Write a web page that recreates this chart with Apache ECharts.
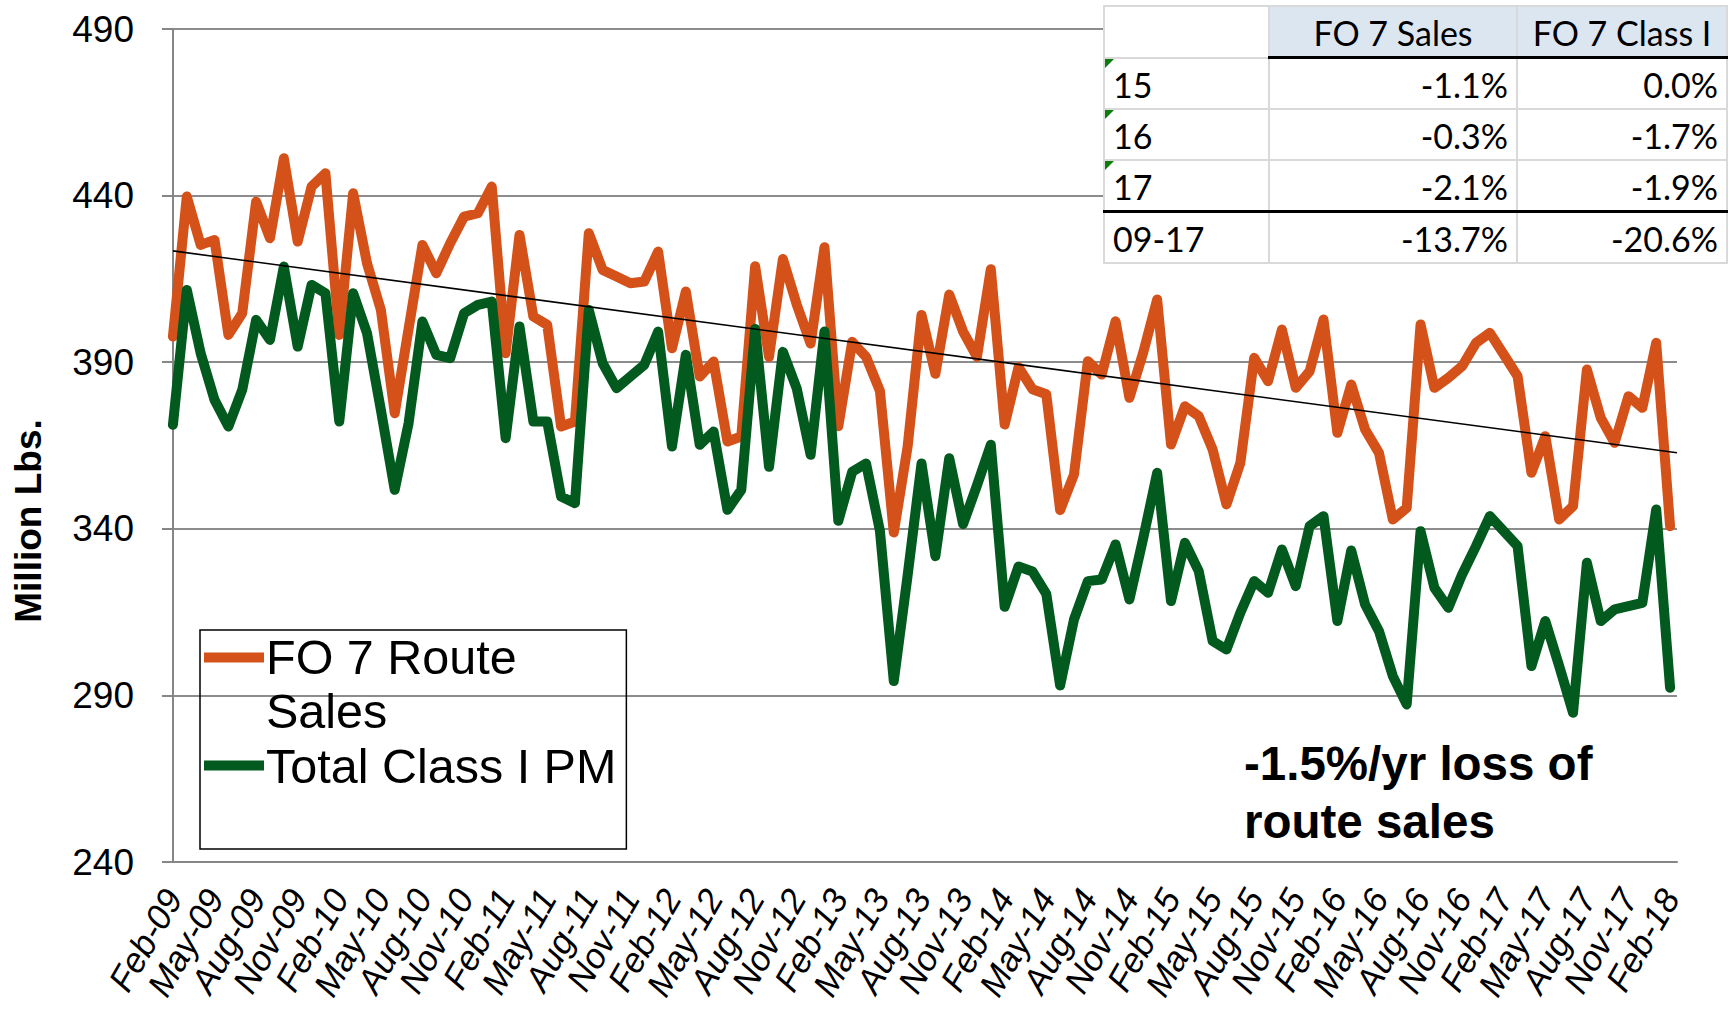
<!DOCTYPE html>
<html>
<head>
<meta charset="utf-8">
<script src="https://cdn.jsdelivr.net/npm/echarts@6/dist/echarts.min.js"></script>
<style>
  html, body { margin: 0; padding: 0; background: #fff; }
  #wrap { position: relative; width: 1729px; height: 1009px; overflow: hidden; }
  #main { position: absolute; left: 0; top: 0; width: 1729px; height: 1009px; }
  table.stats {
    position: absolute; left: 1103px; top: 5px;
    border-collapse: collapse; background: #fff;
    font-family: Lato, "Open Sans", sans-serif; font-size: 34px; color: #000;
  }
  table.stats td { border: 2px solid #d9d9d9; height: 47px; padding: 2px 8px 0 8px; white-space: nowrap; }
  table.stats td.num { text-align: right; }
  table.stats tr.head td.hd { background: #dce6f1; text-align: center; border-bottom: 3px solid #000; }
  table.stats tr.total td { border-top: 3px solid #000; }
  table.stats td.flag { position: relative; }
  table.stats td.flag::before {
    content: ''; position: absolute; left: 0; top: 0;
    border-top: 9px solid #0a7d0a; border-right: 9px solid transparent;
  }
</style>
</head>
<body>
<div id="wrap">
  <div id="main"></div>
  <table class="stats" id="stats"></table>
</div>
<script>
// monthly values, Feb-09 .. Feb-18 (million lbs)
var routeSales = [
  397.7, 439.7, 425.2, 426.7, 398.2, 404.7, 438.2, 427.2, 451.2, 426.2, 442.7, 446.7,
  398.2, 440.7, 419.7, 405.7, 374.7, 400.0, 425.2, 416.7, 425.7, 433.7, 434.7, 442.7,
  392.7, 428.2, 403.7, 401.2, 370.7, 372.2, 428.7, 417.7, 415.7, 413.7, 414.2, 423.2,
  394.2, 411.2, 385.7, 390.2, 366.2, 367.7, 418.8, 391.6, 421.0, 407.3, 395.6, 424.5,
  370.8, 396.1, 391.6, 381.4, 338.9, 364.7, 404.2, 386.5, 410.3, 399.2, 391.6, 417.9,
  371.3, 388.5, 381.9, 380.4, 345.6, 356.3, 390.3, 386.3, 402.3, 379.3, 393.0, 408.8,
  365.3, 376.8, 373.8, 363.8, 347.3, 359.8, 391.3, 384.3, 399.8, 382.3, 387.3, 402.8,
  368.8, 383.3, 369.8, 362.8, 342.8, 346.3, 401.3, 382.3, 385.3, 388.8, 395.8, 398.8,
  392.3, 385.8, 356.8, 367.8, 342.8, 346.8, 387.8, 373.3, 365.8, 379.8, 376.3, 395.8,
  340.8
];
var classI = [
  371.2, 411.7, 392.7, 378.7, 370.7, 381.7, 402.7, 396.7, 418.7, 394.7, 413.2, 410.7,
  372.2, 410.7, 398.7, 375.7, 351.7, 371.7, 402.2, 392.2, 391.2, 404.7, 407.2, 408.2,
  367.2, 400.7, 372.2, 372.2, 349.7, 347.7, 405.7, 389.7, 382.2, 385.7, 389.2, 399.2,
  364.7, 392.2, 365.2, 369.2, 345.7, 351.7, 400.0, 358.6, 393.1, 382.1, 362.2, 399.2,
  342.4, 357.1, 359.6, 339.4, 294.3, 326.0, 359.6, 331.8, 361.2, 341.4, 353.0, 365.2,
  316.6, 328.7, 327.2, 320.5, 293.0, 312.8, 324.3, 324.8, 335.3, 318.8, 337.3, 356.8,
  318.3, 335.8, 327.3, 306.3, 303.8, 314.8, 324.3, 320.8, 333.8, 322.8, 340.8, 343.8,
  312.3, 333.5, 317.3, 309.3, 295.8, 287.3, 339.3, 322.3, 316.3, 326.3, 334.8, 343.8,
  339.3, 334.8, 298.8, 312.3, 298.8, 284.8, 329.8, 312.3, 315.8, 316.8, 317.8, 345.8,
  292.3
];
// linear trend of route sales, read at its two ends
var trendEnds = [423.4, 362.8];

var monthNames = ['Jan', 'Feb', 'Mar', 'Apr', 'May', 'Jun', 'Jul', 'Aug', 'Sep', 'Oct', 'Nov', 'Dec'];
var categories = [];
for (var k = 0; k < routeSales.length; k++) {
  var m = (1 + k) % 12;
  var yr = 9 + Math.floor((1 + k) / 12);
  categories.push(monthNames[m] + '-' + (yr < 10 ? '0' : '') + yr);
}

// inset table
var tableRows = ['15', '16', '17', '09-17'];
var tableHead = ['FO 7 Sales', 'FO 7 Class I'];
var salesChange = ['-1.1%', '-0.3%', '-2.1%', '-13.7%'];
var classIChange = ['0.0%', '-1.7%', '-1.9%', '-20.6%'];

var html = '<colgroup><col style="width:165px"><col style="width:248px"><col style="width:210px"></colgroup>';
html += '<tr class="head"><td></td><td class="hd">' + tableHead[0] + '</td><td class="hd">' + tableHead[1] + '</td></tr>';
for (var r = 0; r < tableRows.length; r++) {
  var last = r === tableRows.length - 1;
  html += '<tr' + (last ? ' class="total"' : '') + '>' +
    '<td' + (last ? '' : ' class="flag"') + '>' + tableRows[r] + '</td>' +
    '<td class="num">' + salesChange[r] + '</td>' +
    '<td class="num">' + classIChange[r] + '</td></tr>';
}
document.getElementById('stats').innerHTML = html;

var orange = '#d4521a';
var green = '#035a1e';
var axisGray = '#868686';
var font = 'Liberation Sans';

var myChart = echarts.init(document.getElementById('main'), null, { renderer: 'svg' });

var option = {
  animation: false,
  backgroundColor: '#fff',
  grid: { left: 166, right: 52, top: 29, bottom: 147, containLabel: false, outerBoundsMode: 'none' },
  legend: {
    orient: 'vertical',
    left: 200,
    top: 630,
    padding: [0, 10, 52, 4],
    itemGap: -4,
    itemWidth: 60,
    itemHeight: 63,
    borderColor: '#000',
    borderWidth: 1.5,
    borderRadius: 0,
    itemStyle: { borderWidth: 0 },
    textStyle: { fontFamily: font, fontSize: 48.5, lineHeight: 54, color: '#000', padding: [0, 0, 0, -3] },
    formatter: function (name) {
      return name === 'FO 7 Route Sales' ? 'FO 7 Route\nSales' : name;
    },
    data: [
      { name: 'FO 7 Route Sales', icon: 'path://M0,0H60V10H0Z M0,62.9H0.1V63H0Z' },
      { name: 'Total Class I PM', icon: 'path://M0,0H0.1V0.1H0Z M0,26.5H60V36.5H0Z M0,62.9H0.1V63H0Z' }
    ]
  },
  xAxis: [
    {
      type: 'category',
      data: categories,
      boundaryGap: true,
      axisLine: { lineStyle: { color: axisGray, width: 2 } },
      axisTick: { interval: 2, length: 11, lineStyle: { color: axisGray, width: 2 } },
      axisLabel: {
        interval: 0, rotate: 60, fontFamily: font, fontSize: 35, fontStyle: 'italic',
        color: '#000', margin: 30, hideOverlap: false,
        formatter: function (value, index) { return index % 3 === 0 ? value : ''; }
      },
      splitLine: { show: false }
    },
    {
      type: 'value',
      min: -0.5,
      max: routeSales.length - 0.5,
      show: false
    }
  ],
  yAxis: {
    type: 'value',
    min: 240,
    max: 490,
    interval: 50,
    axisLine: { show: true, lineStyle: { color: axisGray, width: 2 } },
    axisTick: { show: true, length: 11, lineStyle: { color: axisGray, width: 2 } },
    axisLabel: { fontFamily: font, fontSize: 37, color: '#000', margin: 32, showMinLabel: true, showMaxLabel: true },
    splitLine: { lineStyle: { color: '#8c8c8c', width: 2 } }
  },
  graphic: [
    {
      type: 'text',
      x: 28,
      y: 521,
      rotation: Math.PI / 2,
      style: { text: 'Million Lbs.', fill: '#000', font: 'bold 37px "Liberation Sans"', align: 'center', verticalAlign: 'middle' }
    },
    {
      type: 'text',
      left: 1244,
      top: 734,
      style: { text: '-1.5%/yr loss of\nroute sales', fill: '#000', font: 'bold 47.5px "Liberation Sans"', lineHeight: 58 }
    }
  ],
  series: [
    {
      name: 'FO 7 Route Sales',
      type: 'line',
      data: routeSales,
      color: orange,
      symbol: 'none',
      lineStyle: { width: 10, color: orange, cap: 'round', join: 'round' }
    },
    {
      name: 'Total Class I PM',
      type: 'line',
      data: classI,
      color: green,
      symbol: 'none',
      lineStyle: { width: 10, color: green, cap: 'round', join: 'round' }
    },
    {
      name: 'trend',
      type: 'line',
      xAxisIndex: 1,
      data: [[0, trendEnds[0]], [routeSales.length - 0.5, trendEnds[1]]],
      symbol: 'none',
      silent: true,
      lineStyle: { width: 1.6, color: '#000' }
    }
  ]
};

myChart.setOption(option);
</script>
</body>
</html>
